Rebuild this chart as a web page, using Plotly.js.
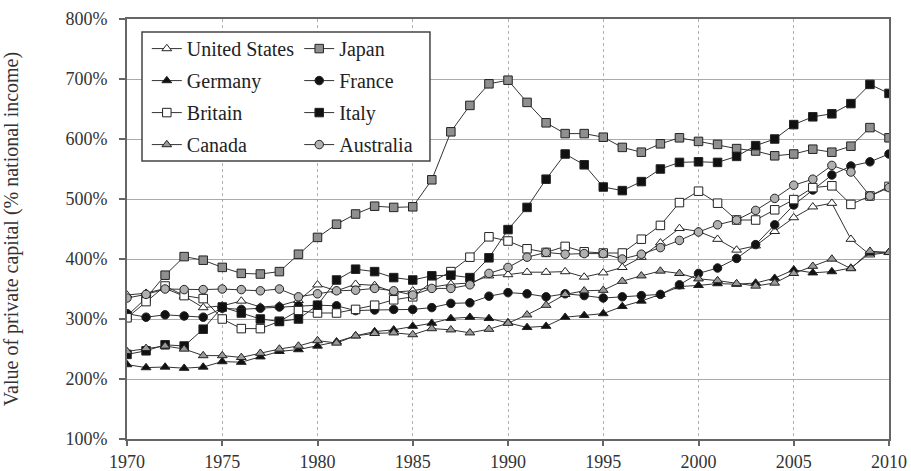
<!DOCTYPE html>
<html><head><meta charset="utf-8">
<script src="https://cdn.plot.ly/plotly-3.0.1.min.js"></script>
<style>html,body{margin:0;padding:0;background:#fff}#chart{width:911px;height:471px}</style>
</head><body><div id="chart"></div>
<script>
const years = [1970,1971,1972,1973,1974,1975,1976,1977,1978,1979,1980,1981,1982,1983,1984,1985,1986,1987,1988,1989,1990,1991,1992,1993,1994,1995,1996,1997,1998,1999,2000,2001,2002,2003,2004,2005,2006,2007,2008,2009,2010];

const unitedStates = [340,343,351,338,319,322,330,320,322,331,357,347,358,356,345,347,353,358,360,372,374,378,378,379,370,377,386,403,427,451,446,433,415,422,446,469,487,493,433,407,411];
const japan = [305,335,373,404,398,386,376,375,379,408,436,458,475,488,486,487,532,612,656,692,698,661,627,609,609,603,586,578,592,602,596,591,584,580,572,575,583,578,588,619,602];
const germany = [224,219,220,218,220,229,228,237,246,249,255,262,272,279,282,288,293,301,303,301,294,286,288,303,306,309,321,330,341,354,356,359,358,360,368,382,377,379,385,410,411];
const france = [309,303,307,305,303,318,316,318,320,322,323,322,314,315,316,316,319,326,327,338,344,342,337,342,339,335,337,339,341,357,376,385,401,424,457,490,515,540,555,562,575];
const britain = [302,329,355,339,334,300,284,284,296,314,310,310,316,323,332,337,362,379,403,437,430,417,411,421,412,410,410,433,456,494,513,493,465,465,482,499,519,522,491,505,521];
const italy = [241,247,257,255,283,320,310,300,296,300,323,365,383,379,369,365,372,373,369,402,449,486,533,575,557,520,514,529,550,561,562,561,571,589,600,624,637,642,659,691,676];
const canada = [246,251,255,250,239,239,236,243,250,255,264,260,272,276,277,274,284,282,277,283,293,307,323,341,347,348,363,372,380,376,367,364,359,355,360,376,388,400,384,413,411];
const australia = [335,341,350,349,349,350,349,347,350,337,342,347,348,351,347,340,351,351,357,376,386,403,411,408,409,409,400,408,419,431,445,457,465,481,501,523,533,556,545,505,519];

const seriesNames = ['United States','Japan','Germany','France','Britain','Italy','Canada','Australia'];
const seriesValues = [unitedStates, japan, germany, france, britain, italy, canada, australia];

const xTickVals = [1970,1975,1980,1985,1990,1995,2000,2005,2010];
const xTickText = ['1970','1975','1980','1985','1990','1995','2000','2005','2010'];
const yTickVals = [100,200,300,400,500,600,700,800];
const yTickText = ['100%','200%','300%','400%','500%','600%','700%','800%'];

const styles = [
  {symbol:'triangle-up', fill:'#ffffff', legend:'legend'},
  {symbol:'square', fill:'#8f8f8f', legend:'legend2'},
  {symbol:'triangle-up', fill:'#111111', legend:'legend'},
  {symbol:'circle', fill:'#111111', legend:'legend2'},
  {symbol:'square', fill:'#ffffff', legend:'legend'},
  {symbol:'square', fill:'#111111', legend:'legend2'},
  {symbol:'triangle-up', fill:'#9a9a9a', legend:'legend'},
  {symbol:'circle', fill:'#b0b0b0', legend:'legend2'}
];

const traces = seriesNames.map((name, i) => ({
  x: years, y: seriesValues[i], name: name, type: 'scatter', mode: 'lines+markers',
  legend: styles[i].legend, legendgroup: 'g' + i,
  line: {color: '#333333', width: 1},
  marker: {symbol: styles[i].symbol, size: 8.5, color: styles[i].fill, line: {color: '#222222', width: 1}}
}));

const serif = 'Liberation Serif, DejaVu Serif, serif';
const legendFont = {family: serif, size: 20, color: '#222'};
const layout = {
  width: 911, height: 471,
  margin: {l: 127, r: 22, t: 19, b: 32},
  paper_bgcolor: '#ffffff', plot_bgcolor: '#ffffff',
  font: {family: serif, color: '#333333', size: 15},
  showlegend: true,
  legend: {x: 0.026, y: 0.976, xanchor: 'left', yanchor: 'top', bgcolor: 'rgba(0,0,0,0)', borderwidth: 0,
           font: legendFont, itemwidth: 30, traceorder: 'grouped', tracegroupgap: 3},
  legend2: {x: 0.226, y: 0.976, xanchor: 'left', yanchor: 'top', bgcolor: 'rgba(0,0,0,0)', borderwidth: 0,
           font: legendFont, itemwidth: 30, traceorder: 'grouped', tracegroupgap: 3},
  xaxis: {
    range: [1970, 2010], tickvals: xTickVals, ticktext: xTickText,
    showgrid: true, gridcolor: '#b0b0b0', griddash: 'dot', gridwidth: 1,
    showline: true, linecolor: '#666666', linewidth: 2, mirror: true,
    ticks: 'outside', ticklen: 5, tickcolor: '#666666', tickwidth: 2,
    tickfont: {family: serif, size: 18, color: '#333'}, zeroline: false
  },
  yaxis: {
    range: [100, 800], tickvals: yTickVals, ticktext: yTickText,
    showgrid: true, gridcolor: '#aaaaaa', gridwidth: 1,
    showline: true, linecolor: '#666666', linewidth: 2, mirror: true,
    ticks: 'outside', ticklen: 6, tickcolor: '#666666', tickwidth: 2,
    ticklabelstandoff: 8,
    tickfont: {family: serif, size: 18, color: '#333'}, zeroline: false,
    title: {text: 'Value of private capital (% national income)', font: {family: serif, size: 20, color: '#333'}, standoff: 42}
  },
  shapes: [{type: 'rect', xref: 'paper', yref: 'paper', x0: 0.0197, x1: 0.3976, y0: 0.662, y1: 0.969,
            line: {color: '#444444', width: 1.5}, fillcolor: '#ffffff', layer: 'above'}]
};

Plotly.newPlot('chart', traces, layout, {displayModeBar: false, staticPlot: true});
</script>
</body></html>
